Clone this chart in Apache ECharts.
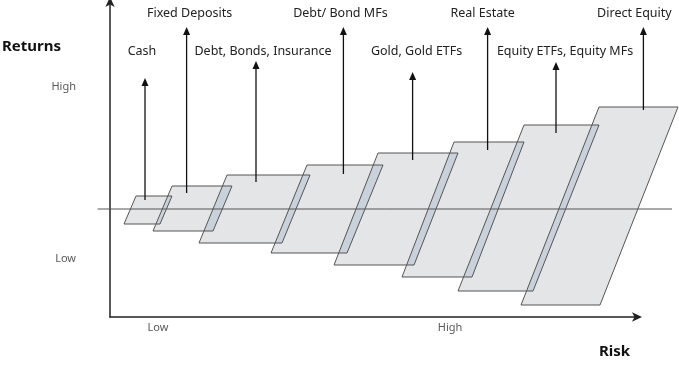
<!DOCTYPE html>
<html><head><meta charset="utf-8">
<script src="https://cdn.jsdelivr.net/npm/echarts@6/dist/echarts.min.js"></script>
<style>html,body{margin:0;padding:0;background:#fff}#c{width:679px;height:379px}</style>
</head><body><div id="c"></div>
<script>
// Asset classes, ordered by risk
const assets = ['Cash','Fixed Deposits','Debt, Bonds, Insurance','Debt/ Bond MFs','Gold, Gold ETFs','Real Estate','Equity ETFs, Equity MFs','Direct Equity'];
// Parallelogram of each asset in risk/return units
const topRiskStart = [13, 31, 58.5, 98.5, 134, 172, 207, 244.5];
const rangeWidth   = [18, 30, 41.5, 38, 40, 35, 37.5, 39.5];
const returnHigh   = [6.5, 11.5, 17, 22, 28, 33.5, 42, 51];
const bottomRiskStart = [7, 21.5, 44.5, 80.5, 112, 146, 174, 205.5];
const returnLow    = [-7.5, -11, -17, -22, -28, -34, -41, -48];
// Arrow for each asset: risk position, base return, tip return
const arrowRisk = [17.5, 38.3, 73, 116.7, 151.3, 188.8, 223, 266.7];
const arrowBase = [4.5, 8, 13.5, 17.5, 24.5, 29.5, 38, 49.5];
const arrowTip  = [65.5, 91, 74, 91, 68.5, 91, 73.5, 91];
// Axis tick labels
const riskTicks = [24, 170];
const riskTickLabels = ['Low', 'High'];
const returnTicks = [61, -25];
const returnTickLabels = ['High', 'Low'];

const FONT = 'Noto Sans';
// layout: small horizontal nudges of the asset captions (pixels)
const captionNudge = [-3, 3, 7, -3, 4, -5, 9, -9];
const chart = echarts.init(document.getElementById('c'));

function corners(api, i) {
  return [
    api.coord([topRiskStart[i], returnHigh[i]]),
    api.coord([topRiskStart[i] + rangeWidth[i], returnHigh[i]]),
    api.coord([bottomRiskStart[i] + rangeWidth[i], returnLow[i]]),
    api.coord([bottomRiskStart[i], returnLow[i]])
  ];
}
function xAt(p, q, y) { // x on line p-q at pixel y
  return p[0] + (q[0] - p[0]) * (y - p[1]) / (q[1] - p[1]);
}

const idx = assets.map((_, i) => i);

chart.setOption({
  animation: false,
  grid: { left: 110, right: 41, top: 1, bottom: 62 },
  xAxis: {
    type: 'value', min: 0, max: 264,
    splitLine: { show: false }, axisTick: { show: false },
    axisLine: { onZero: false, symbol: ['none', 'arrow'], symbolSize: [7, 10], symbolOffset: [0, 4],
      lineStyle: { color: '#222', width: 1.5 } },
    axisLabel: { customValues: riskTicks, margin: 5, color: '#595959', fontFamily: FONT, fontSize: 11,
      formatter: v => riskTickLabels[riskTicks.indexOf(v)] }
  },
  yAxis: {
    type: 'value', min: -54, max: 104,
    splitLine: { show: false }, axisTick: { show: false },
    axisLine: { onZero: false, symbol: ['none', 'arrow'], symbolSize: [7, 10], symbolOffset: [0, 4],
      lineStyle: { color: '#222', width: 1.5 } },
    axisLabel: { customValues: returnTicks, margin: 34, color: '#595959', fontFamily: FONT, fontSize: 11,
      formatter: v => returnTickLabels[returnTicks.indexOf(v)] }
  },
  graphic: [
    { type: 'text', left: 2, top: 39, style: { text: 'Returns', font: 'bold 15px "' + FONT + '"', fill: '#111' } },
    { type: 'text', left: 599, top: 344, style: { text: 'Risk', font: 'bold 15px "' + FONT + '"', fill: '#111' } }
  ],
  series: [
    { // fills
      type: 'custom', clip: false, z: 1, data: idx,
      renderItem: (params, api) => {
        const i = params.dataIndex;
        return { type: 'polygon', shape: { points: corners(api, i) },
          style: { fill: '#e4e5e7', stroke: null } };
      }
    },
    { // overlap bands between neighbouring parallelograms
      type: 'custom', clip: false, z: 2, data: idx.slice(0, -1),
      renderItem: (params, api) => {
        const i = params.dataIndex;
        const a = corners(api, i), b = corners(api, i + 1);
        const yT = a[0][1], yB = a[3][1];
        const pts = [
          [xAt(b[0], b[3], yT), yT], [a[1][0], yT],
          [a[2][0], yB], [xAt(b[0], b[3], yB), yB]
        ];
        return { type: 'polygon', shape: { points: pts },
          style: { fill: '#c9d1db', stroke: null } };
      }
    },
    { // midline
      type: 'custom', clip: false, z: 3, data: [0],
      renderItem: (params, api) => {
        const p = api.coord([-6.2, 0]), q = api.coord([281, 0]);
        return { type: 'line', shape: { x1: p[0], y1: p[1], x2: q[0], y2: q[1] },
          style: { stroke: '#555', lineWidth: 1 } };
      }
    },
    { // outlines
      type: 'custom', clip: false, z: 4, data: idx,
      renderItem: (params, api) => {
        const i = params.dataIndex;
        return { type: 'polygon', shape: { points: corners(api, i) },
          style: { fill: 'none', stroke: '#555', lineWidth: 1 } };
      }
    },
    { // arrows and labels
      type: 'custom', clip: false, z: 5, data: idx,
      renderItem: (params, api) => {
        const i = params.dataIndex;
        const b = api.coord([arrowRisk[i], arrowBase[i]]);
        const t = api.coord([arrowRisk[i], arrowTip[i]]);
        const labelY = (i % 2 === 1) ? 13.5 : 51;
        return { type: 'group', children: [
          { type: 'line', shape: { x1: b[0], y1: b[1], x2: t[0], y2: t[1] + 6 },
            style: { stroke: '#111', lineWidth: 1.3 } },
          { type: 'polygon', shape: { points: [[t[0], t[1]], [t[0] - 3.5, t[1] + 8], [t[0] + 3.5, t[1] + 8]] },
            style: { fill: '#111' } },
          { type: 'text', x: t[0] + captionNudge[i], y: labelY,
            style: { text: assets[i], fill: '#222', font: '12.5px "' + FONT + '"', align: 'center', verticalAlign: 'middle' } }
        ] };
      }
    }
  ]
});
</script></body></html>
